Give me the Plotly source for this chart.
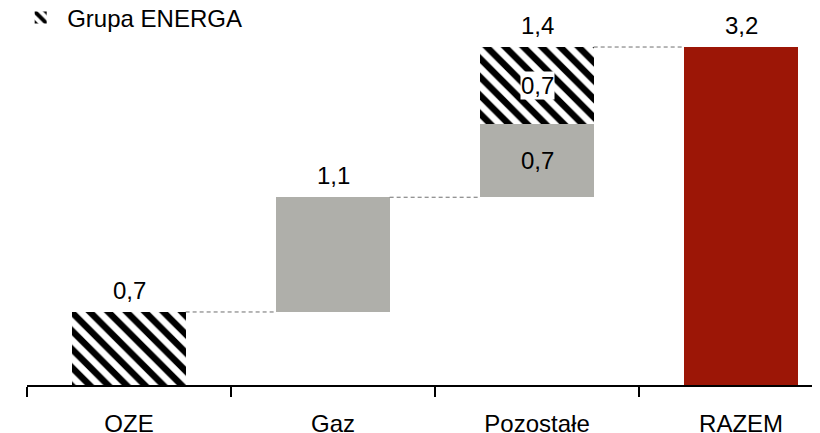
import plotly.graph_objects as go

categories = ["OZE", "Gaz", "Pozostałe", "RAZEM"]
energa_vals = [0.70, 0.74]          # hatched (Grupa ENERGA) parts: OZE, Pozostałe
energa_cat = [0, 2]
other_vals = [1.10, 0.70]           # grey parts: Gaz, Pozostałe
other_cat = [1, 2]
total_val = 3.24
top_labels = ["0,7", "1,1", "1,4", "3,2"]
inner_labels = ["0,7", "0,7"]       # Pozostałe grey, Pozostałe hatched

FONT = "Liberation Sans, Arial, sans-serif"
FS = 24
W = 0.555
GREY = "#AFAFAA"
RED = "#9C1606"

# stacked waterfall bases
oze_top = energa_vals[0]
gaz_base = oze_top
gaz_top = gaz_base + other_vals[0]
poz_grey_base = gaz_top
poz_grey_top = poz_grey_base + other_vals[1]
poz_hatch_base = poz_grey_top
poz_top = poz_hatch_base + energa_vals[1]

fig = go.Figure()
fig.add_trace(go.Bar(
    x=energa_cat, y=energa_vals, base=[0, poz_hatch_base], width=W,
    name="Grupa ENERGA",
    marker=dict(color="white", line=dict(width=0), opacity=1,
                pattern=dict(shape="\\", fgcolor="black", bgcolor="white",
                             fgopacity=1, size=13, solidity=0.5)),
    hoverinfo="skip",
))
fig.add_trace(go.Bar(
    x=other_cat, y=other_vals, base=[gaz_base, poz_grey_base], width=W,
    marker=dict(color=GREY, line=dict(width=0), opacity=1), showlegend=False,
    hoverinfo="skip",
))
fig.add_trace(go.Bar(
    x=[3], y=[total_val], base=[0], width=W,
    marker=dict(color=RED, line=dict(width=0), opacity=1), showlegend=False,
    hoverinfo="skip",
))

# connectors
tops = [oze_top, gaz_top, poz_top]
for i, t in enumerate(tops):
    fig.add_shape(type="line", xref="x", yref="y",
                  x0=i + W / 2, x1=i + 1 - W / 2, y0=t, y1=t,
                  line=dict(color="#6E6E6E", width=1, dash="4px,3px"))

# labels above bars
label_tops = [oze_top, gaz_top, poz_top, total_val]
for i, (t, lab) in enumerate(zip(label_tops, top_labels)):
    fig.add_annotation(x=i, y=t, text=lab, showarrow=False, yanchor="bottom",
                       yshift=6, font=dict(size=FS, color="black", family=FONT))

# labels inside Pozostałe
fig.add_annotation(x=2, y=(poz_grey_base + poz_grey_top) / 2, text=inner_labels[0],
                   showarrow=False, font=dict(size=FS, color="black", family=FONT))
fig.add_annotation(x=2, y=(poz_hatch_base + poz_top) / 2, text=inner_labels[1],
                   showarrow=False, bgcolor="white", borderpad=0,
                   font=dict(size=FS, color="black", family=FONT))

fig.update_layout(
    width=820, height=433,
    margin=dict(l=19, r=0, t=2, b=56, autoexpand=False),
    plot_bgcolor="white", paper_bgcolor="white",
    barmode="overlay", bargap=0,
    font=dict(family=FONT, size=FS, color="black"),
    showlegend=True,
    legend=dict(x=-0.016, y=0.979, xanchor="left", yanchor="middle",
                font=dict(size=FS, family=FONT), bgcolor="rgba(0,0,0,0)",
                itemwidth=43, tracegroupgap=0),
    xaxis=dict(range=[-0.5, 3.426], tickmode="array", tickvals=[0, 1, 2, 3],
               ticktext=categories, ticks="outside", ticklen=16,
               tickcolor="rgba(0,0,0,0)", showline=True, linecolor="black",
               linewidth=1.5, showgrid=False, zeroline=False, automargin=False,
               tickfont=dict(size=FS, family=FONT),
               minor=dict(tickmode="array", tickvals=[-0.5, 0.5, 1.5, 2.5],
                          ticks="outside", ticklen=10, tickcolor="black",
                          tickwidth=1.5, showgrid=False)),
    yaxis=dict(range=[0, 3.595], visible=False, showgrid=False, zeroline=False,
               automargin=False),
)

fig.write_html("out.html")
